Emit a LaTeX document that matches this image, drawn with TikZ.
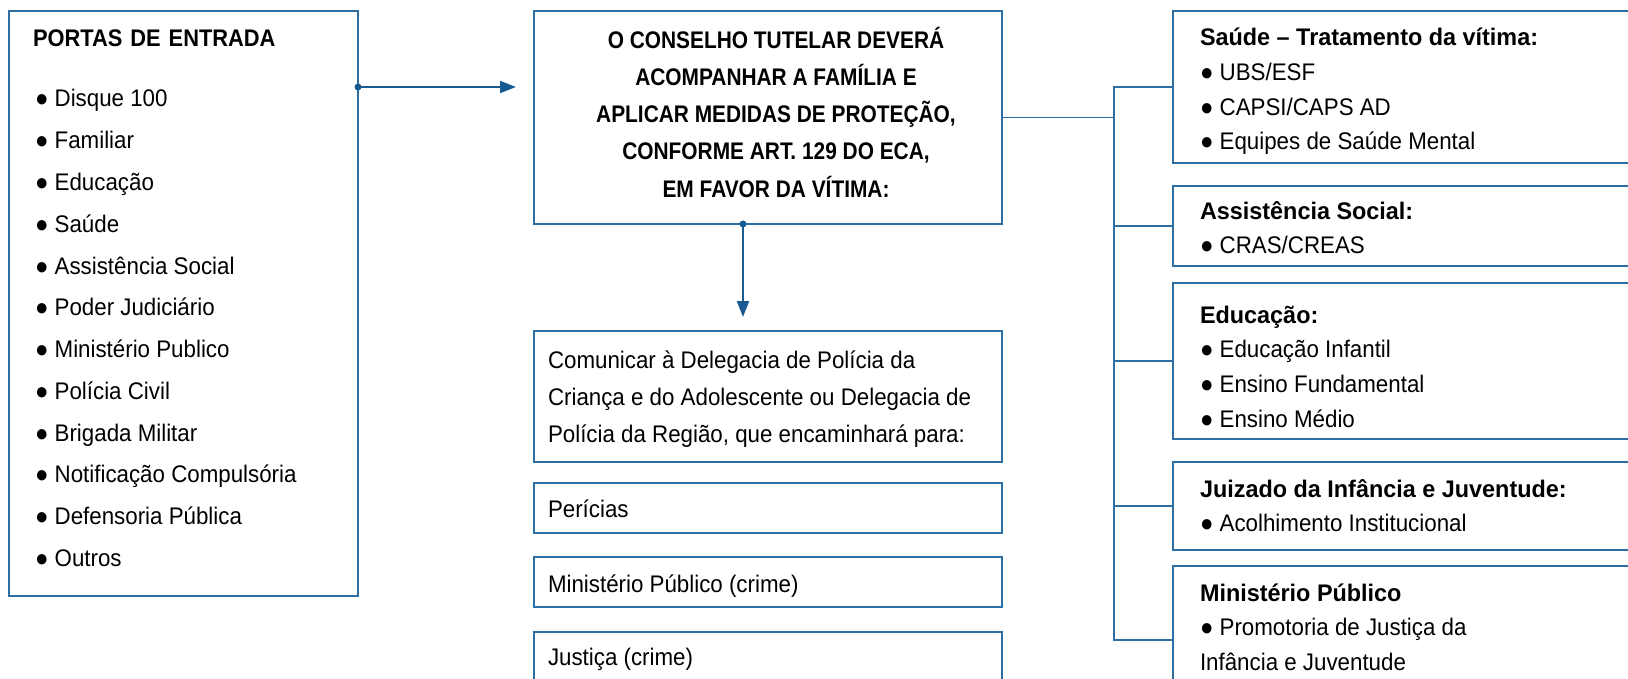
\documentclass[tikz,border=0pt]{standalone}
\usepackage{fontspec}
\setmainfont{Liberation Sans}[FakeStretch=0.93, BoldFeatures={FakeStretch=0.975}]
\newfontfamily\capsfont{Liberation Sans}[FakeStretch=0.87, BoldFeatures={FakeStretch=0.87}]
\newfontfamily\titlefont{Liberation Sans}[FakeStretch=0.91, BoldFeatures={FakeStretch=0.91}]
\usetikzlibrary{arrows.meta,calc}
\definecolor{boxblue}{RGB}{45,110,165}
\definecolor{arrowblue}{RGB}{25,90,145}
\newcommand\mkbox[5]{\node[box, anchor=north west, minimum width={(#4-#2)*1pt}, minimum height={(#5-#3)*1pt}] (#1) at (#2,#3) {};}
\begin{document}
\begin{tikzpicture}[x=1pt,y=-1pt,
  box/.style={draw=boxblue, line width=1.5pt, inner sep=0pt, outer sep=0pt, rectangle},
  txt/.style={inner sep=0pt, outer sep=0pt, text=black, font=\fontsize{24}{29}\selectfont},
  conn/.style={draw=boxblue, line width=1.5pt},
  arr/.style={draw=arrowblue, line width=2pt, -{Triangle[length=16pt,width=12pt]}}]
\useasboundingbox (0,0) rectangle (1628,679);
\clip (0,0) rectangle (1628,679);

% boxes
\mkbox{left}{9}{11}{358}{596}
\mkbox{ctr}{534}{11}{1002}{224}
\mkbox{la}{534}{331}{1002}{462}
\mkbox{lb}{534}{483}{1002}{533}
\mkbox{lc}{534}{557}{1002}{607}
\mkbox{ld}{534}{632}{1002}{700}
\mkbox{r1}{1173}{11}{1645}{163}
\mkbox{r2}{1173}{186}{1645}{266}
\mkbox{r3}{1173}{283}{1645}{439}
\mkbox{r4}{1173}{462}{1645}{550}
\mkbox{r5}{1173}{566}{1645}{714}

% left box text
\node[txt, anchor=base west] (ltitle) at (33,47) {\titlefont\bfseries PORTAS\,\,DE\,\,ENTRADA};
\foreach \t [count=\i from 0] in {Disque 100, Familiar, Educação, Saúde, Assistência Social, Poder Judiciário, Ministério Publico, Polícia Civil, Brigada Militar, Notificação Compulsória, Defensoria Pública, Outros}
  \node[txt, anchor=base west] (li\i) at (35,{107+\i*41.75}) {● \t};

% center top text
\node[txt, anchor=base] (c1) at (776,49) {\capsfont\bfseries O CONSELHO TUTELAR DEVERÁ};
\node[txt, anchor=base] (c2) at (776,86) {\capsfont\bfseries ACOMPANHAR A FAMÍLIA E};
\node[txt, anchor=base] (c3) at (776,123) {\capsfont\bfseries APLICAR MEDIDAS DE PROTEÇÃO,};
\node[txt, anchor=base] (c4) at (776,160) {\capsfont\bfseries CONFORME ART. 129 DO ECA,};
\node[txt, anchor=base] (c5) at (776,198) {\capsfont\bfseries EM FAVOR DA VÍTIMA:};

% center lower text
\node[txt, anchor=base west] (la1) at (548,368) {Comunicar à Delegacia de Polícia da};
\node[txt, anchor=base west] (la2) at (548,405) {Criança e do Adolescente ou Delegacia de};
\node[txt, anchor=base west] (la3) at (548,442) {Polícia da Região, que encaminhará para:};
\node[txt, anchor=base west] (lb1) at (548,517) {Perícias};
\node[txt, anchor=base west] (lc1) at (548,592) {Ministério Público (crime)};
\node[txt, anchor=base west] (ld1) at (548,665) {Justiça (crime)};

% right text
\node[txt, anchor=base west] (r1h) at (1200,46) {\bfseries Saúde – Tratamento da vítima:};
\node[txt, anchor=base west] (r1a) at (1200,81) {● UBS/ESF};
\node[txt, anchor=base west] (r1b) at (1200,116) {● CAPSI/CAPS AD};
\node[txt, anchor=base west] (r1c) at (1200,150) {● Equipes de Saúde Mental};
\node[txt, anchor=base west] (r2h) at (1200,220) {\bfseries Assistência Social:};
\node[txt, anchor=base west] (r2a) at (1200,254) {● CRAS/CREAS};
\node[txt, anchor=base west] (r3h) at (1200,323) {\bfseries Educação:};
\node[txt, anchor=base west] (r3a) at (1200,357) {● Educação Infantil};
\node[txt, anchor=base west] (r3b) at (1200,392) {● Ensino Fundamental};
\node[txt, anchor=base west] (r3c) at (1200,427) {● Ensino Médio};
\node[txt, anchor=base west] (r4h) at (1200,497) {\bfseries Juizado da Infância e Juventude:};
\node[txt, anchor=base west] (r4a) at (1200,531) {● Acolhimento Institucional};
\node[txt, anchor=base west] (r5h) at (1200,601) {\bfseries Ministério Público};
\node[txt, anchor=base west] (r5a) at (1200,635) {● Promotoria de Justiça da};
\node[txt, anchor=base west] (r5b) at (1200,670) {Infância e Juventude};

% connectors
\coordinate (p1) at ($(left.north east)+(0,76)$);
\coordinate (p1end) at (516,87);
\draw[arr] (p1) -- (p1end);
\fill[arrowblue] (p1) circle (3.5pt);

\coordinate (p2) at ($(ctr.south west)+(209,0)$);
\coordinate (p2end) at (743,317);
\draw[arr] (p2) -- (p2end);
\fill[arrowblue] (p2) circle (3.5pt);

\coordinate (trunkTop) at (1114,87);
\coordinate (trunkBot) at (1114,640);
\draw[conn] (ctr.east) -- (ctr.east -| trunkTop);
\draw[conn] (r1.west) -- (trunkTop) -- (trunkBot) -- (r5.west);
\foreach \b in {r2,r3,r4}
  \draw[conn] (\b.west -| trunkTop) -- (\b.west);
\end{tikzpicture}
\end{document}
